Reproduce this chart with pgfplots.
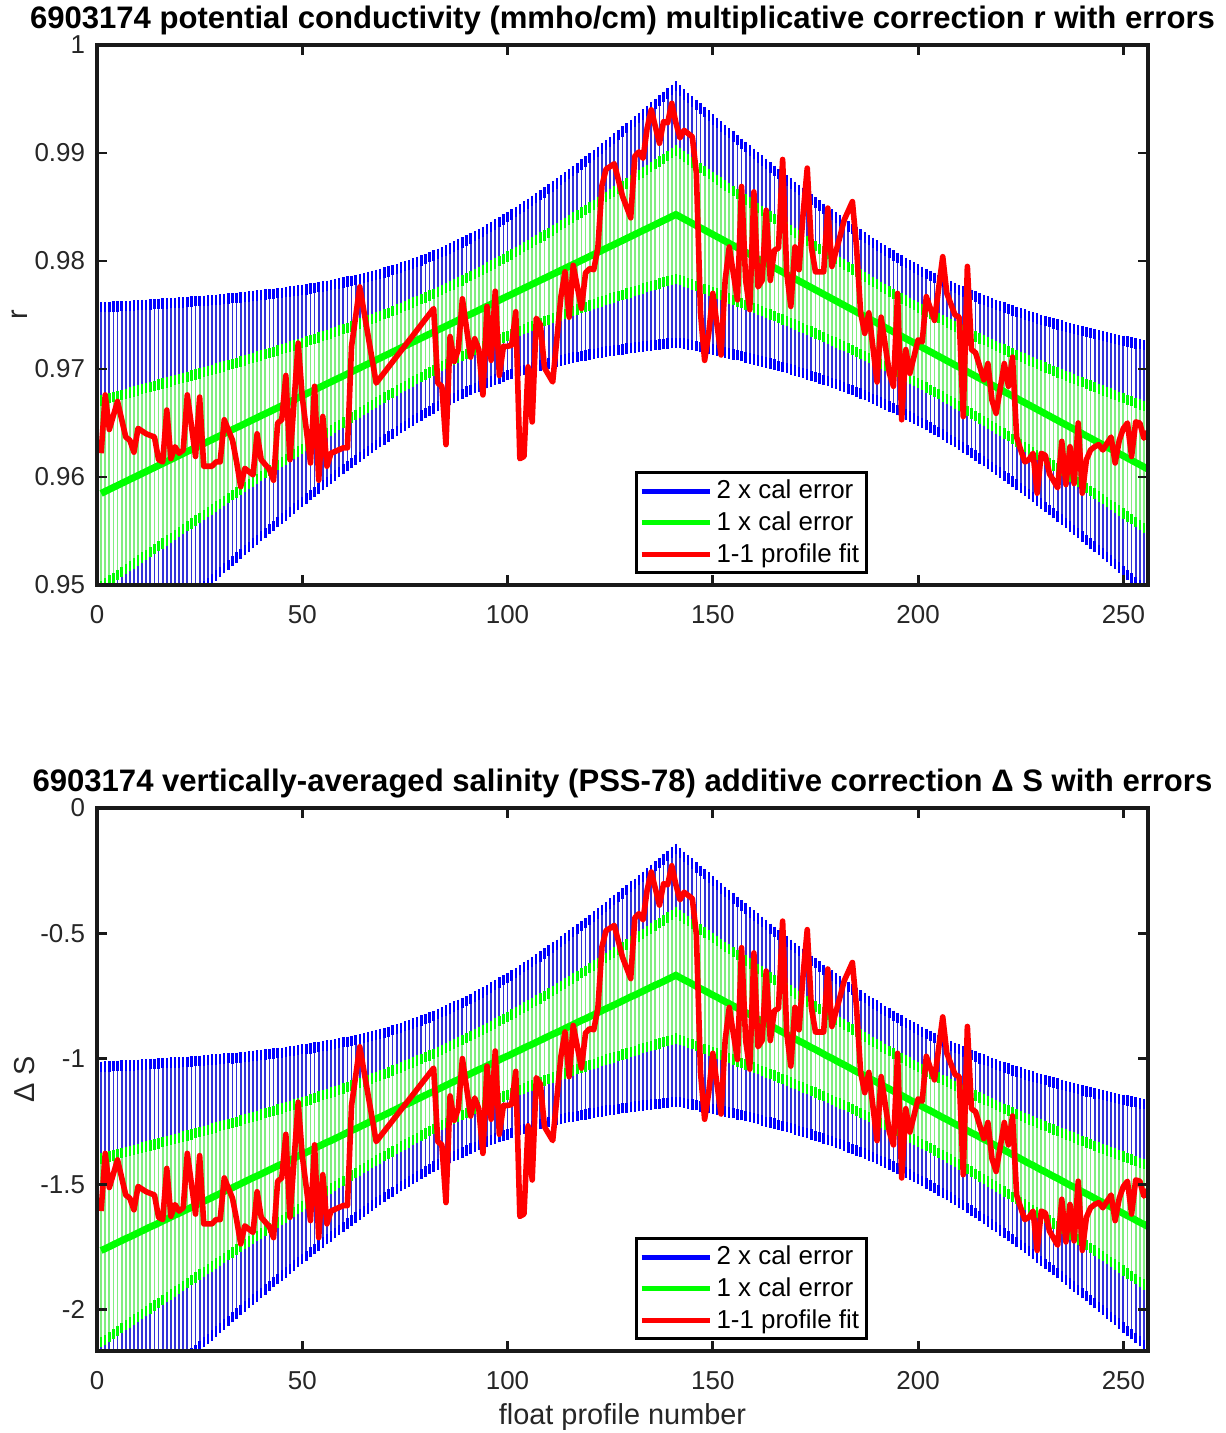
\documentclass[border=0pt]{standalone}
\usepackage{pgfplots}
\pgfplotsset{compat=1.18}
\usepackage{pgfplotstable}
\usepackage{fontspec}
\setmainfont{Liberation Sans}

\pgfplotstableread{
x rc re sc se
1 0.95848 0.00862 -1.764 0.366
2 0.95867 0.00853 -1.757 0.363
3 0.95885 0.00845 -1.749 0.359
4 0.95904 0.00837 -1.741 0.356
5 0.95922 0.00829 -1.733 0.352
6 0.95941 0.00820 -1.725 0.349
7 0.95959 0.00812 -1.717 0.345
8 0.95978 0.00804 -1.710 0.342
9 0.95996 0.00796 -1.702 0.338
10 0.96014 0.00788 -1.694 0.335
11 0.96033 0.00780 -1.686 0.332
12 0.96051 0.00772 -1.678 0.328
13 0.96070 0.00764 -1.670 0.325
14 0.96088 0.00756 -1.663 0.321
15 0.96107 0.00748 -1.655 0.318
16 0.96125 0.00740 -1.647 0.315
17 0.96143 0.00732 -1.639 0.311
18 0.96162 0.00724 -1.631 0.308
19 0.96180 0.00716 -1.623 0.304
20 0.96199 0.00708 -1.616 0.301
21 0.96217 0.00700 -1.608 0.298
22 0.96236 0.00692 -1.600 0.294
23 0.96254 0.00685 -1.592 0.291
24 0.96273 0.00677 -1.584 0.288
25 0.96291 0.00669 -1.576 0.284
26 0.96309 0.00661 -1.568 0.281
27 0.96328 0.00654 -1.561 0.278
28 0.96346 0.00646 -1.553 0.275
29 0.96365 0.00638 -1.545 0.271
30 0.96383 0.00631 -1.537 0.268
31 0.96402 0.00623 -1.529 0.265
32 0.96420 0.00616 -1.521 0.262
33 0.96439 0.00608 -1.514 0.258
34 0.96457 0.00601 -1.506 0.255
35 0.96475 0.00594 -1.498 0.252
36 0.96494 0.00586 -1.490 0.249
37 0.96512 0.00579 -1.482 0.246
38 0.96531 0.00572 -1.474 0.243
39 0.96549 0.00565 -1.467 0.240
40 0.96568 0.00558 -1.459 0.237
41 0.96586 0.00551 -1.451 0.234
42 0.96604 0.00544 -1.443 0.231
43 0.96623 0.00537 -1.435 0.228
44 0.96641 0.00530 -1.427 0.225
45 0.96660 0.00523 -1.420 0.222
46 0.96678 0.00517 -1.412 0.220
47 0.96697 0.00510 -1.404 0.217
48 0.96715 0.00504 -1.396 0.214
49 0.96734 0.00497 -1.388 0.211
50 0.96752 0.00491 -1.380 0.209
51 0.96770 0.00484 -1.373 0.206
52 0.96789 0.00478 -1.365 0.203
53 0.96807 0.00472 -1.357 0.201
54 0.96826 0.00466 -1.349 0.198
55 0.96844 0.00460 -1.341 0.196
56 0.96863 0.00454 -1.333 0.193
57 0.96881 0.00449 -1.326 0.191
58 0.96900 0.00443 -1.318 0.188
59 0.96918 0.00437 -1.310 0.186
60 0.96936 0.00432 -1.302 0.184
61 0.96955 0.00427 -1.294 0.181
62 0.96973 0.00422 -1.286 0.179
63 0.96992 0.00417 -1.279 0.177
64 0.97010 0.00412 -1.271 0.175
65 0.97029 0.00407 -1.263 0.173
66 0.97047 0.00403 -1.255 0.171
67 0.97065 0.00398 -1.247 0.169
68 0.97084 0.00394 -1.239 0.167
69 0.97102 0.00390 -1.232 0.166
70 0.97121 0.00386 -1.224 0.164
71 0.97139 0.00382 -1.216 0.162
72 0.97158 0.00379 -1.208 0.161
73 0.97176 0.00375 -1.200 0.159
74 0.97195 0.00372 -1.192 0.158
75 0.97213 0.00369 -1.184 0.157
76 0.97231 0.00366 -1.177 0.156
77 0.97250 0.00364 -1.169 0.155
78 0.97268 0.00362 -1.161 0.154
79 0.97287 0.00359 -1.153 0.153
80 0.97305 0.00357 -1.145 0.152
81 0.97324 0.00356 -1.137 0.151
82 0.97342 0.00354 -1.130 0.150
83 0.97361 0.00353 -1.122 0.150
84 0.97379 0.00352 -1.114 0.150
85 0.97397 0.00351 -1.106 0.149
86 0.97416 0.00350 -1.098 0.149
87 0.97434 0.00350 -1.090 0.149
88 0.97453 0.00350 -1.083 0.149
89 0.97471 0.00350 -1.075 0.149
90 0.97490 0.00350 -1.067 0.149
91 0.97508 0.00351 -1.059 0.149
92 0.97526 0.00352 -1.051 0.150
93 0.97545 0.00353 -1.043 0.150
94 0.97563 0.00354 -1.036 0.150
95 0.97582 0.00356 -1.028 0.151
96 0.97600 0.00357 -1.020 0.152
97 0.97619 0.00359 -1.012 0.153
98 0.97637 0.00362 -1.004 0.154
99 0.97656 0.00364 -0.996 0.155
100 0.97674 0.00366 -0.989 0.156
101 0.97692 0.00369 -0.981 0.157
102 0.97711 0.00372 -0.973 0.158
103 0.97729 0.00375 -0.965 0.159
104 0.97748 0.00379 -0.957 0.161
105 0.97766 0.00382 -0.949 0.162
106 0.97785 0.00386 -0.942 0.164
107 0.97803 0.00390 -0.934 0.166
108 0.97822 0.00394 -0.926 0.167
109 0.97840 0.00398 -0.918 0.169
110 0.97858 0.00403 -0.910 0.171
111 0.97877 0.00407 -0.902 0.173
112 0.97895 0.00412 -0.895 0.175
113 0.97914 0.00417 -0.887 0.177
114 0.97932 0.00422 -0.879 0.179
115 0.97951 0.00427 -0.871 0.181
116 0.97969 0.00432 -0.863 0.184
117 0.97987 0.00437 -0.855 0.186
118 0.98006 0.00443 -0.847 0.188
119 0.98024 0.00449 -0.840 0.191
120 0.98043 0.00454 -0.832 0.193
121 0.98061 0.00460 -0.824 0.196
122 0.98080 0.00466 -0.816 0.198
123 0.98098 0.00472 -0.808 0.201
124 0.98117 0.00478 -0.800 0.203
125 0.98135 0.00484 -0.793 0.206
126 0.98153 0.00491 -0.785 0.209
127 0.98172 0.00497 -0.777 0.211
128 0.98190 0.00504 -0.769 0.214
129 0.98209 0.00510 -0.761 0.217
130 0.98227 0.00517 -0.753 0.220
131 0.98246 0.00523 -0.746 0.222
132 0.98264 0.00530 -0.738 0.225
133 0.98283 0.00537 -0.730 0.228
134 0.98301 0.00544 -0.722 0.231
135 0.98319 0.00551 -0.714 0.234
136 0.98338 0.00558 -0.706 0.237
137 0.98356 0.00565 -0.699 0.240
138 0.98375 0.00572 -0.691 0.243
139 0.98393 0.00579 -0.683 0.246
140 0.98412 0.00586 -0.675 0.249
141 0.98430 0.00594 -0.667 0.252
142 0.98410 0.00584 -0.676 0.248
143 0.98389 0.00577 -0.685 0.245
144 0.98369 0.00571 -0.693 0.243
145 0.98348 0.00564 -0.702 0.240
146 0.98328 0.00558 -0.711 0.237
147 0.98307 0.00552 -0.720 0.235
148 0.98287 0.00546 -0.728 0.232
149 0.98266 0.00540 -0.737 0.230
150 0.98246 0.00533 -0.746 0.227
151 0.98225 0.00527 -0.754 0.224
152 0.98205 0.00521 -0.763 0.221
153 0.98184 0.00515 -0.772 0.219
154 0.98164 0.00510 -0.780 0.217
155 0.98143 0.00504 -0.789 0.214
156 0.98123 0.00498 -0.798 0.212
157 0.98102 0.00492 -0.807 0.209
158 0.98082 0.00487 -0.815 0.207
159 0.98061 0.00481 -0.824 0.204
160 0.98041 0.00476 -0.833 0.202
161 0.98020 0.00470 -0.841 0.200
162 0.98000 0.00465 -0.850 0.198
163 0.97979 0.00460 -0.859 0.196
164 0.97959 0.00454 -0.868 0.193
165 0.97938 0.00449 -0.876 0.191
166 0.97918 0.00444 -0.885 0.189
167 0.97897 0.00439 -0.894 0.187
168 0.97877 0.00435 -0.902 0.185
169 0.97856 0.00430 -0.911 0.183
170 0.97836 0.00425 -0.920 0.181
171 0.97815 0.00421 -0.929 0.179
172 0.97795 0.00416 -0.937 0.177
173 0.97774 0.00412 -0.946 0.175
174 0.97754 0.00408 -0.955 0.173
175 0.97733 0.00404 -0.963 0.172
176 0.97713 0.00400 -0.972 0.170
177 0.97692 0.00396 -0.981 0.168
178 0.97672 0.00392 -0.990 0.167
179 0.97651 0.00389 -0.998 0.165
180 0.97631 0.00385 -1.007 0.164
181 0.97610 0.00382 -1.016 0.162
182 0.97590 0.00379 -1.024 0.161
183 0.97569 0.00376 -1.033 0.160
184 0.97549 0.00373 -1.042 0.159
185 0.97528 0.00370 -1.051 0.157
186 0.97508 0.00368 -1.059 0.156
187 0.97487 0.00365 -1.068 0.155
188 0.97467 0.00363 -1.077 0.154
189 0.97446 0.00361 -1.085 0.153
190 0.97426 0.00359 -1.094 0.153
191 0.97405 0.00357 -1.103 0.152
192 0.97385 0.00356 -1.112 0.151
193 0.97364 0.00355 -1.120 0.151
194 0.97344 0.00353 -1.129 0.150
195 0.97323 0.00352 -1.138 0.150
196 0.97303 0.00351 -1.146 0.149
197 0.97282 0.00351 -1.155 0.149
198 0.97262 0.00350 -1.164 0.149
199 0.97241 0.00350 -1.173 0.149
200 0.97221 0.00350 -1.181 0.149
201 0.97200 0.00350 -1.190 0.149
202 0.97180 0.00350 -1.199 0.149
203 0.97159 0.00351 -1.207 0.149
204 0.97139 0.00351 -1.216 0.149
205 0.97118 0.00352 -1.225 0.150
206 0.97098 0.00353 -1.234 0.150
207 0.97077 0.00355 -1.242 0.151
208 0.97057 0.00356 -1.251 0.151
209 0.97036 0.00357 -1.260 0.152
210 0.97016 0.00359 -1.268 0.153
211 0.96995 0.00361 -1.277 0.153
212 0.96975 0.00363 -1.286 0.154
213 0.96954 0.00365 -1.295 0.155
214 0.96934 0.00368 -1.303 0.156
215 0.96913 0.00370 -1.312 0.157
216 0.96893 0.00373 -1.321 0.159
217 0.96872 0.00376 -1.329 0.160
218 0.96852 0.00379 -1.338 0.161
219 0.96831 0.00382 -1.347 0.162
220 0.96811 0.00385 -1.356 0.164
221 0.96790 0.00389 -1.364 0.165
222 0.96770 0.00392 -1.373 0.167
223 0.96749 0.00396 -1.382 0.168
224 0.96729 0.00400 -1.390 0.170
225 0.96708 0.00404 -1.399 0.172
226 0.96688 0.00408 -1.408 0.173
227 0.96667 0.00412 -1.417 0.175
228 0.96647 0.00416 -1.425 0.177
229 0.96626 0.00421 -1.434 0.179
230 0.96606 0.00425 -1.443 0.181
231 0.96585 0.00430 -1.451 0.183
232 0.96565 0.00435 -1.460 0.185
233 0.96544 0.00439 -1.469 0.187
234 0.96524 0.00444 -1.477 0.189
235 0.96503 0.00449 -1.486 0.191
236 0.96483 0.00454 -1.495 0.193
237 0.96462 0.00460 -1.504 0.196
238 0.96442 0.00465 -1.512 0.198
239 0.96421 0.00470 -1.521 0.200
240 0.96401 0.00476 -1.530 0.202
241 0.96380 0.00481 -1.538 0.204
242 0.96360 0.00487 -1.547 0.207
243 0.96339 0.00492 -1.556 0.209
244 0.96319 0.00498 -1.565 0.212
245 0.96298 0.00504 -1.573 0.214
246 0.96278 0.00510 -1.582 0.217
247 0.96257 0.00515 -1.591 0.219
248 0.96237 0.00521 -1.599 0.221
249 0.96216 0.00527 -1.608 0.224
250 0.96196 0.00533 -1.617 0.227
251 0.96175 0.00540 -1.626 0.230
252 0.96155 0.00546 -1.634 0.232
253 0.96134 0.00552 -1.643 0.235
254 0.96114 0.00558 -1.652 0.237
255 0.96093 0.00564 -1.660 0.240
256 0.96073 0.00571 -1.669 0.243
}\band

\pgfplotstableread{
x r s
1 0.9622 -1.607
2 0.9676 -1.377
3 0.9644 -1.513
5 0.9670 -1.403
7 0.9637 -1.543
8 0.9634 -1.556
9 0.9623 -1.602
10 0.9645 -1.509
12 0.9640 -1.530
14 0.9637 -1.543
15 0.9616 -1.632
16 0.9614 -1.641
17 0.9662 -1.437
18 0.9617 -1.628
19 0.9628 -1.581
20 0.9622 -1.607
21 0.9625 -1.594
22 0.9676 -1.377
24 0.9619 -1.619
25 0.9674 -1.386
26 0.9610 -1.658
28 0.9610 -1.658
29 0.9614 -1.641
30 0.9614 -1.641
31 0.9653 -1.475
33 0.9634 -1.556
34 0.9614 -1.641
35 0.9591 -1.738
36 0.9608 -1.666
38 0.9602 -1.692
39 0.9640 -1.530
40 0.9616 -1.632
42 0.9607 -1.670
43 0.9597 -1.713
44 0.9650 -1.488
45 0.9653 -1.475
46 0.9694 -1.301
47 0.9616 -1.632
49 0.9724 -1.173
50 0.9674 -1.386
52 0.9613 -1.645
53 0.9684 -1.343
54 0.9597 -1.713
55 0.9656 -1.462
56 0.9610 -1.658
57 0.9622 -1.607
60 0.9627 -1.585
61 0.9627 -1.585
62 0.9721 -1.186
64 0.9776 -0.952
68 0.9687 -1.330
82 0.9756 -1.037
83 0.9687 -1.330
84 0.9684 -1.343
85 0.9630 -1.573
86 0.9730 -1.148
87 0.9707 -1.245
88 0.9718 -1.199
89 0.9765 -0.999
91 0.9711 -1.228
92 0.9728 -1.156
93 0.9718 -1.199
94 0.9676 -1.377
95 0.9758 -1.029
96 0.9708 -1.241
97 0.9772 -0.969
98 0.9694 -1.301
99 0.9721 -1.186
100 0.9721 -1.186
101 0.9722 -1.182
102 0.9753 -1.050
103 0.9617 -1.628
104 0.9619 -1.619
105 0.9702 -1.267
106 0.9651 -1.483
107 0.9747 -1.075
108 0.9741 -1.101
109 0.9701 -1.271
111 0.9688 -1.326
113 0.9767 -0.990
114 0.9790 -0.893
115 0.9748 -1.071
116 0.9796 -0.867
118 0.9756 -1.037
119 0.9789 -0.897
120 0.9793 -0.880
121 0.9792 -0.884
122 0.9812 -0.799
123 0.9870 -0.553
124 0.9885 -0.489
126 0.9890 -0.468
128 0.9860 -0.595
130 0.9840 -0.680
131 0.9897 -0.438
132 0.9901 -0.421
133 0.9895 -0.446
134 0.9923 -0.327
135 0.9940 -0.255
137 0.9909 -0.387
138 0.9929 -0.302
139 0.9928 -0.306
140 0.9946 -0.230
141 0.9928 -0.306
142 0.9914 -0.366
143 0.9921 -0.336
145 0.9915 -0.361
146 0.9881 -0.506
147 0.9752 -1.054
148 0.9708 -1.241
149 0.9733 -1.135
150 0.9770 -0.978
152 0.9713 -1.220
153 0.9782 -0.927
154 0.9813 -0.795
156 0.9764 -1.003
157 0.9869 -0.557
158 0.9782 -0.927
159 0.9755 -1.041
160 0.9864 -0.578
161 0.9776 -0.952
162 0.9782 -0.927
163 0.9847 -0.650
164 0.9782 -0.927
165 0.9810 -0.808
166 0.9812 -0.799
167 0.9894 -0.451
168 0.9789 -0.897
169 0.9758 -1.029
170 0.9813 -0.795
171 0.9792 -0.884
172 0.9844 -0.663
173 0.9886 -0.485
174 0.9813 -0.795
175 0.9790 -0.893
177 0.9790 -0.893
178 0.9849 -0.642
179 0.9795 -0.871
181 0.9823 -0.752
182 0.9838 -0.689
184 0.9855 -0.616
185 0.9813 -0.795
186 0.9752 -1.054
187 0.9733 -1.135
188 0.9752 -1.054
190 0.9688 -1.326
191 0.9748 -1.071
193 0.9696 -1.292
194 0.9684 -1.343
195 0.9770 -0.978
196 0.9653 -1.475
197 0.9718 -1.199
198 0.9696 -1.292
200 0.9727 -1.160
201 0.9725 -1.169
202 0.9767 -0.990
204 0.9745 -1.084
206 0.9804 -0.833
207 0.9770 -0.978
209 0.9750 -1.063
210 0.9748 -1.071
211 0.9656 -1.462
212 0.9795 -0.871
213 0.9718 -1.199
214 0.9715 -1.211
216 0.9690 -1.318
217 0.9705 -1.254
218 0.9671 -1.398
219 0.9659 -1.449
221 0.9705 -1.254
222 0.9684 -1.343
223 0.9711 -1.228
224 0.9637 -1.543
225 0.9625 -1.594
226 0.9614 -1.641
227 0.9616 -1.632
228 0.9622 -1.607
229 0.9585 -1.764
230 0.9622 -1.607
231 0.9620 -1.615
232 0.9603 -1.687
234 0.9590 -1.743
235 0.9633 -1.560
236 0.9593 -1.730
237 0.9628 -1.581
238 0.9594 -1.726
239 0.9650 -1.488
240 0.9585 -1.764
241 0.9616 -1.632
242 0.9625 -1.594
243 0.9628 -1.581
244 0.9630 -1.573
245 0.9625 -1.594
247 0.9637 -1.543
248 0.9613 -1.645
249 0.9634 -1.556
250 0.9645 -1.509
251 0.9650 -1.488
252 0.9619 -1.619
253 0.9651 -1.483
254 0.9650 -1.488
255 0.9636 -1.547
256 0.9642 -1.522
}\fit

\definecolor{barblue}{rgb}{0.2,0.2,0.85}
\definecolor{bargreen}{rgb}{0.5,0.93,0.5}

\pgfplotsset{
  myax/.style={
    scale only axis,
    width=525.5bp,
    xmin=0, xmax=256,
    xtick={0,50,100,150,200,250},
    axis on top,
    axis line style={line width=1.6bp, black!90},
    every tick/.style={line width=1.4bp, black!90},
    major tick length=5bp,
    tick align=inside,
    ticklabel style={font=\fontsize{13}{15}\selectfont, text=black!85},
    /pgf/number format/assume math mode=true,
    xticklabel style={yshift=-9bp, inner ysep=1bp},
    yticklabel style={xshift=-1.5bp, inner ysep=0.5bp, inner xsep=4.3bp},
    legend image code/.code={\draw[#1] (0bp,0bp) -- (34bp,0bp);},
    legend style={at={(axis description cs:0.7336,0.0204)}, anchor=south east,
      draw=black, line width=1.5bp, fill=white,
      font=\fontsize{13}{15}\selectfont,
      inner xsep=1.5bp, inner ysep=1.5bp, row sep=0.5bp,
      nodes={inner sep=2.2bp, text=black}},
    legend cell align=left,
    title style={font=\fontsize{15.6}{18}\selectfont\bfseries, inner sep=0bp,
      at={(axis description cs:0.5,1)}, anchor=base, yshift=2.2bp},
    ylabel style={font=\fontsize{14.5}{17}\selectfont, text=black!85, anchor=center},
    xlabel style={font=\fontsize{14.5}{17}\selectfont, text=black!85, anchor=center},
  },
  bluebars/.style={forget plot, barblue, line width=0.5bp, mark=none,
    error bars/.cd, y dir=both, y explicit, error mark=-,
    error bar style={draw=barblue, line width=0.9bp},
    error mark options={draw=blue, line width=1.2bp, mark size=2.6bp}},
  greenbars/.style={forget plot, green, line width=0.5bp, mark=none,
    error bars/.cd, y dir=both, y explicit, error mark=-,
    error bar style={draw=bargreen, line width=0.9bp},
    error mark options={draw=green, line width=1.2bp, mark size=2.6bp}},
}

\begin{document}
\begin{tikzpicture}
\path[use as bounding box] (0,0) rectangle (613bp,-716.5bp);

\begin{axis}[myax,
  at={(48.5bp,-292.5bp)}, anchor=south west,
  height=270bp,
  ymin=0.95, ymax=1,
  ytick={0.95,0.96,0.97,0.98,0.99,1},
  yticklabel style={/pgf/number format/.cd, fixed, precision=2},
  title={6903174 potential conductivity (mmho/cm) multiplicative correction r with errors},
  ylabel={r},
  ylabel style={at={(axis description cs:-0.0733,0.5)}},
]
\addplot[bluebars] table[x=x, y=rc, y error expr=2*\thisrow{re}] {\band};
\addplot[greenbars] table[x=x, y=rc, y error=re] {\band};
\addplot[forget plot, green, line width=3.5bp] table[x=x, y=rc] {\band};
\addplot[forget plot, red, line width=2.8bp, line join=round] table[x=x, y=r] {\fit};
\addlegendimage{blue, line width=2.5bp}
\addlegendentry{2 x cal error}
\addlegendimage{green, line width=2.5bp}
\addlegendentry{1 x cal error}
\addlegendimage{red, line width=2.5bp}
\addlegendentry{1-1 profile fit}
\end{axis}

\begin{axis}[myax,
  at={(48.5bp,-675.5bp)}, anchor=south west,
  height=271.5bp,
  ymin=-2.165, ymax=0,
  ytick={-2,-1.5,-1,-0.5,0},
  yticklabel style={/pgf/number format/.cd, fixed, precision=1},
  title={6903174 vertically-averaged salinity (PSS-78) additive correction Δ S with errors},
  ylabel={Δ S},
  ylabel style={at={(axis description cs:-0.0685,0.5)}},
  xlabel={float profile number},
  xlabel style={at={(axis description cs:0.5,-0.121)}},
]
\addplot[bluebars] table[x=x, y=sc, y error expr=2*\thisrow{se}] {\band};
\addplot[greenbars] table[x=x, y=sc, y error=se] {\band};
\addplot[forget plot, green, line width=3.5bp] table[x=x, y=sc] {\band};
\addplot[forget plot, red, line width=2.8bp, line join=round] table[x=x, y=s] {\fit};
\addlegendimage{blue, line width=2.5bp}
\addlegendentry{2 x cal error}
\addlegendimage{green, line width=2.5bp}
\addlegendentry{1 x cal error}
\addlegendimage{red, line width=2.5bp}
\addlegendentry{1-1 profile fit}
\end{axis}
\end{tikzpicture}
\end{document}
